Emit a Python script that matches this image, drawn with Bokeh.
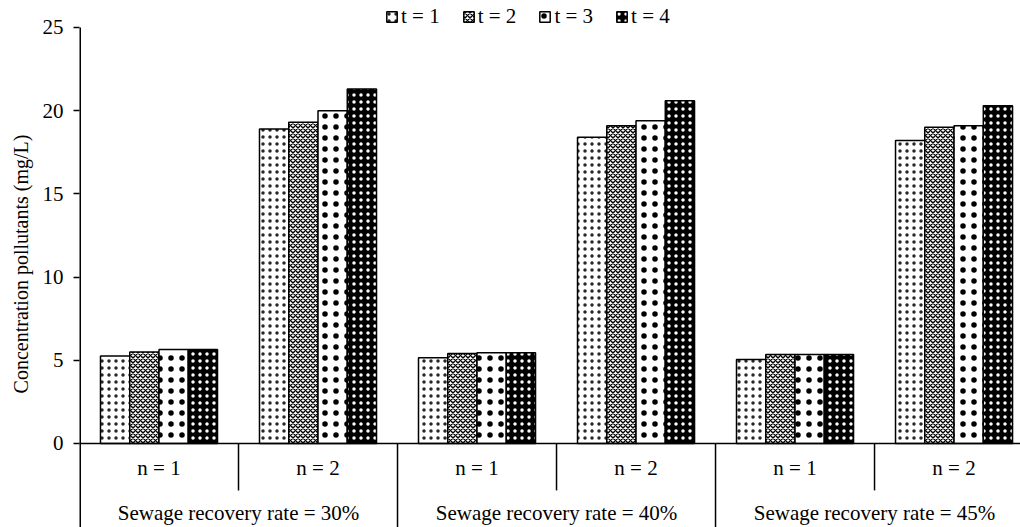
from bokeh.plotting import figure
from bokeh.models import (ColumnDataSource, FixedTicker, Legend, LegendItem, Span, Range1d)
from bokeh.core.properties import value
from bokeh.embed import file_html
from bokeh.resources import INLINE

rates = ["Sewage recovery rate = 30%", "Sewage recovery rate = 40%", "Sewage recovery rate = 45%"]
n_labels = ["n = 1", "n = 2"]
t_labels = ["t = 1", "t = 2", "t = 3", "t = 4"]
# values per (rate, n) slot, in order 30%n1, 30%n2, 40%n1, 40%n2, 45%n1, 45%n2
t1 = [5.25, 18.9, 5.15, 18.4, 5.05, 18.2]
t2 = [5.5, 19.3, 5.4, 19.1, 5.35, 19.0]
t3 = [5.65, 20.0, 5.45, 19.4, 5.35, 19.1]
t4 = [5.65, 21.3, 5.45, 20.6, 5.35, 20.3]
y_ticks = [0, 5, 10, 15, 20, 25]

FONT = "Liberation Serif"
FS = "21px"
Y0, Y1 = -5.05, 26.62

p = figure(width=1020, height=527, output_backend="svg", toolbar_location=None,
           x_range=Range1d(0, 5.918), y_range=Range1d(Y0, Y1),
           min_border_left=79, min_border_right=0, min_border_top=0, min_border_bottom=0)
p.outline_line_color = None
p.grid.visible = False
p.background_fill_color = "white"
p.border_fill_color = "white"
p.xaxis.visible = False

ya = p.yaxis[0]
ya.ticker = FixedTicker(ticks=y_ticks)
ya.axis_line_color = None
ya.major_tick_in = 0
ya.major_tick_out = 6
ya.major_tick_line_color = "black"
ya.major_tick_line_width = 1.5
ya.minor_tick_line_color = None
ya.major_label_text_font = FONT
ya.major_label_text_font_size = FS
ya.major_label_text_color = "black"
ya.major_label_standoff = 10
ya.axis_label = "Concentration pollutants (mg/L)"
ya.axis_label_text_font = FONT
ya.axis_label_text_font_size = "20px"
ya.axis_label_text_font_style = "normal"
ya.axis_label_text_color = "black"
ya.axis_label_standoff = 8

# vertical y-axis line from 25 down to the bottom
p.segment(x0=[0], y0=[y_ticks[-1]], x1=[0], y1=[Y0], line_color="black", line_width=3)
# horizontal axis line at 0
p.add_layout(Span(location=0, dimension="width", line_color="black", line_width=1.5))

offsets = [0.224, 0.408, 0.592, 0.776]
bw = 0.184
series = [t1, t2, t3, t4]
styles = [
    dict(fill_color="white", hatch_pattern="dot", hatch_color="black", hatch_scale=7, hatch_weight=1, hatch_alpha=0.85),
    dict(fill_color="white", hatch_pattern="diagonal_cross", hatch_color="black", hatch_scale=5, hatch_weight=1.4),
    dict(fill_color="white", hatch_pattern="dot", hatch_color="black", hatch_scale=11, hatch_weight=1),
    dict(fill_color="black", hatch_pattern="dot", hatch_color="white", hatch_scale=7, hatch_weight=1),
]
renderers = []
for k, (vals, st) in enumerate(zip(series, styles)):
    xs = [i + offsets[k] for i in range(len(vals))]
    src = ColumnDataSource(dict(x=xs, top=vals))
    r = p.vbar(x="x", top="top", width=bw, bottom=0, source=src,
               line_color="black", line_width=1.5, **st)
    renderers.append(r)

# category labels
n_x = [i + 0.5 for i in range(6)]
n_txt = [n_labels[i % 2] for i in range(6)]
p.text(x=n_x, y=[-1.5] * 6, text=n_txt, text_font=value(FONT), text_font_size=FS,
       text_align="center", text_baseline="middle", text_color="black")
r_x = [2 * j + 1 for j in range(3)]
p.text(x=r_x, y=[-4.2] * 3, text=rates, text_font=value(FONT), text_font_size=FS,
       text_align="center", text_baseline="middle", text_color="black")
# separators
p.segment(x0=[1, 3, 5], y0=[0] * 3, x1=[1, 3, 5], y1=[-2.82] * 3, line_color="black", line_width=1.5)
p.segment(x0=[2, 4], y0=[0] * 2, x1=[2, 4], y1=[Y0] * 2, line_color="black", line_width=1.5)

legend = Legend(items=[LegendItem(label=t, renderers=[r]) for t, r in zip(t_labels, renderers)],
                location=(306, 498), orientation="horizontal",
                label_text_font=FONT, label_text_font_size=FS, label_text_color="black",
                glyph_width=13, glyph_height=13, spacing=22, padding=0, margin=0,
                label_standoff=3, background_fill_alpha=0, border_line_color=None)
p.add_layout(legend)

open("out.html", "w").write(file_html(p, INLINE))
